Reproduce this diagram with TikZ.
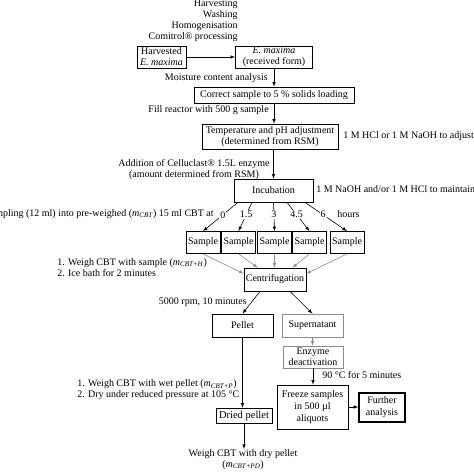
\documentclass[tikz,border=0pt]{standalone}
\usepackage{fontspec}
\setmainfont{Liberation Serif}
\definecolor{lightgrey}{gray}{0.55}
\newcommand{\msub}[1]{\textit{m}\textsubscript{\textit{#1}}}

\begin{document}
\begin{tikzpicture}[x=1pt,y=-1pt,>=latex,line width=0.6pt,
	font=\fontsize{10}{11}\selectfont,
	box/.style={draw,line width=0.7pt,inner sep=1pt,align=center},
	greybox/.style={box,draw=lightgrey},
	lbl/.style={inner sep=0pt},
	num/.style={fill=white,inner sep=1pt}]
\useasboundingbox (0,0) rectangle (474,474);

\node[lbl,anchor=east,align=right] (steps) at (238,21) {Harvesting\\Washing\\Homogenisation\\Comitrol® processing};
\node[box,minimum width=49pt,minimum height=22pt] (harv) at (161.5,57) {Harvested\\\textit{E. maxima}};
\node[box,minimum width=77pt,minimum height=22pt] (recv) at (274,57) {\textit{E. maxima}\\(received form)};
\node[box,minimum width=160pt,minimum height=16pt] (corr) at (274,95) {Correct sample to 5 \% solids loading};
\node[box,minimum width=136pt,minimum height=25pt] (temp) at (270,136.5) {Temperature and pH adjustment\\(determined from RSM)};
\node[box,minimum width=79pt,minimum height=23pt] (inc) at (273.5,190.5) {Incubation};

\node[lbl,anchor=east] (moist) at (268,78) {Moisture content analysis};
\node[lbl,anchor=east] (fill) at (269,110) {Fill reactor with 500 g sample};
\node[lbl,align=center] (add) at (194,169.5) {Addition of Celluclast® 1.5L enzyme\\(amount determined from RSM)};
\node[lbl,anchor=west] (adjust) at (343,136.5) {1 M HCl or 1 M NaOH to adjust pH};
\node[lbl,anchor=west] (maintain) at (316,190.5) {1 M NaOH and/or 1 M HCl to maintain pH};

\draw[->] (harv) -- (recv);
\draw[->] (recv.south) -- (recv.south |- corr.north);
\draw[->] (corr.south) -- (corr.south |- temp.north);
\draw[->] (inc.north |- temp.south) -- (inc.north);

\foreach \i/\x in {1/203,2/238.5,3/274.5,4/309.5,5/347}{
	\node[box,minimum width=34pt,minimum height=22pt] (s\i) at (\x,242.5) {Sample};
}
\foreach \i/\dx/\t in {1/-35.5/0,2/-21.5/1.5,3/0/3,4/13.5/4.5,5/31.5/6}{
	\draw[->] ([xshift=\dx pt]inc.south) -- node[num,pos=0.43] {\t} (s\i.north);
}
\node[lbl,anchor=east] (sampling) at (214,214) {Sampling (12 ml) into pre-weighed (\msub{CBT}) 15 ml CBT at};
\node[lbl,anchor=west] (hours) at (337,214) {hours};

\node[box,minimum width=62pt,minimum height=23pt] (cent) at (275,279.5) {Centrifugation};
\draw[->,lightgrey] (s1.south) -- ([yshift=-6pt]cent.north west);
\draw[->,lightgrey] (s2.south) -- ([xshift=14pt]cent.north west);
\draw[->,lightgrey] (s3.south) -- (s3.south |- cent.north);
\draw[->,lightgrey] (s4.south) -- ([xshift=-14pt]cent.north east);
\draw[->,lightgrey] (s5.south) -- ([yshift=-6pt]cent.north east);
\node[lbl,anchor=west,align=left] (weigh1) at (57,267.5) {1. Weigh CBT with sample (\msub{CBT+H})\\2. Ice bath for 2 minutes};

\node[box,minimum width=61pt,minimum height=23pt] (pel) at (242.5,325.5) {Pellet};
\node[greybox,minimum width=61pt,minimum height=23pt] (sup) at (312.5,325.5) {Supernatant};
\draw[->] ([xshift=-15pt]cent.south) -- (pel.north);
\draw[->] ([xshift=15pt]cent.south) -- (sup.north);
\node[lbl,anchor=east] (rpm) at (247,302) {5000 rpm, 10 minutes};

\node[greybox,minimum width=60pt,minimum height=22pt] (enz) at (313,357) {Enzyme\\deactivation};
\node[box,minimum width=71pt,minimum height=44pt,font=\fontsize{10}{12}\selectfont] (frz) at (312.5,407) {Freeze samples\\in 500 µl\\aliquots};
\node[box,line width=1.4pt,minimum width=46pt,minimum height=29pt,font=\fontsize{10}{12}\selectfont] (fur) at (382,407.5) {Further\\analysis};
\draw[->,lightgrey] (sup.south) -- (sup.south |- enz.north);
\draw[->] (enz.south) -- (enz.south |- frz.north);
\draw[->] (frz.east) -- (frz.east -| fur.west);
\node[lbl,anchor=west] (deact) at (322,375) {90 °C for 5 minutes};

\node[box,minimum width=56pt,minimum height=15pt,font=\fontsize{10.5}{12}\selectfont] (dry) at (244,415.5) {Dried pellet};
\draw[->] (pel.south) -- (pel.south |- dry.north);
\node[lbl,anchor=west,align=left] (weigh2) at (77,390) {1. Weigh CBT with wet pellet (\msub{CBT+P})\\2. Dry under reduced pressure at 105 °C};
\node[lbl,anchor=north,align=center] (weigh3) at (243,449) {Weigh CBT with dry pellet\\(\msub{CBT+PD})};
\draw[->] (dry.south) -- (dry.south |- weigh3.north);
\end{tikzpicture}
\end{document}
